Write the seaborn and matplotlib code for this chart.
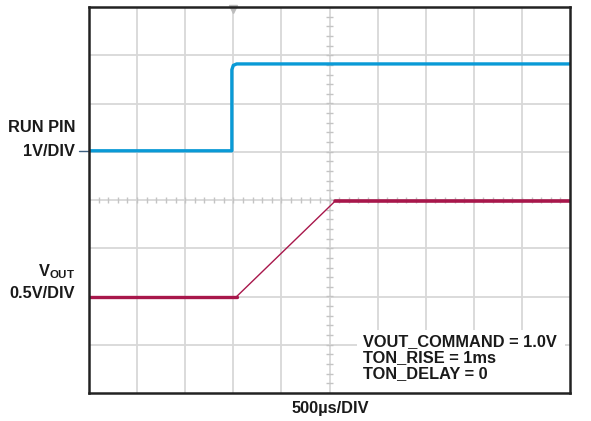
import numpy as np
import pandas as pd
import matplotlib
matplotlib.use("Agg")
import matplotlib.pyplot as plt
from matplotlib.patches import Rectangle
import seaborn as sns

# ---- data (in scope divisions) ----
run_t = [-5.0, -2.03, -2.03, -2.0, -1.93, 5.0]
run_v = [1.02, 1.02, 2.70, 2.79, 2.82, 2.82]
vout_low_t = [-5.0, -1.93]
vout_low_v = [-2.0, -2.0]
vout_ramp_t = [-1.93, 0.12]
vout_ramp_v = [-2.0, -0.02]
vout_high_t = [0.12, 5.0]
vout_high_v = [-0.02, -0.02]

x_div = list(range(-5, 6))
y_div = list(range(-4, 5))

sns.set_style("white")
plt.rcParams["font.family"] = ["Liberation Sans", "DejaVu Sans"]
plt.rcParams["mathtext.fontset"] = "custom"
plt.rcParams["mathtext.bf"] = "Liberation Sans:bold"
plt.rcParams["mathtext.rm"] = "Liberation Sans:bold"

fig = plt.figure(figsize=(5.91, 4.21), dpi=100)
ax = fig.add_axes([89/591, 1-393/421, 481/591, 386/421])

blue = "#0a9ad6"
red = "#a8174b"
gridc = "#d8d8d8"

ax.set_xlim(-5, 5)
ax.set_ylim(-4, 4)
for xv in x_div[1:-1]:
    ax.axvline(xv, color=gridc, lw=1.3, zorder=0)
for yv in y_div[1:-1]:
    ax.axhline(yv, color=gridc, lw=1.3, zorder=0)

# minor ticks along center axes
minor = np.arange(-5, 5.001, 0.2)
ax.vlines(minor, -0.07, 0.07, color="#c4c4c4", lw=1.0, zorder=1)
minor_y = np.arange(-4, 4.001, 0.2)
ax.hlines(minor_y, -0.07, 0.07, color="#c4c4c4", lw=1.0, zorder=1)

df_run = pd.DataFrame({"t": run_t, "v": run_v})
sns.lineplot(data=df_run, x="t", y="v", sort=False, estimator=None, color=blue,
             lw=2.4, ax=ax, zorder=3, solid_joinstyle="round")
sns.lineplot(data=pd.DataFrame({"t": vout_low_t, "v": vout_low_v}), x="t", y="v",
             sort=False, estimator=None, color=red, lw=2.4, ax=ax, zorder=3)
sns.lineplot(data=pd.DataFrame({"t": vout_ramp_t, "v": vout_ramp_v}), x="t", y="v",
             sort=False, estimator=None, color=red, lw=1.0, ax=ax, zorder=3)
sns.lineplot(data=pd.DataFrame({"t": vout_high_t, "v": vout_high_v}), x="t", y="v",
             sort=False, estimator=None, color=red, lw=2.6, ax=ax, zorder=3)

ax.set_xticks([])
ax.set_yticks([])
ax.set_xlabel("")
ax.set_ylabel("")
for s in ax.spines.values():
    s.set_visible(True)
    s.set_color("#222222")
    s.set_linewidth(1.8)
    s.set_zorder(5)

# trigger marker
ax.plot([-2.0], [3.96], marker="v", color="#bdbdbd", markersize=6, clip_on=False, zorder=4)
# channel marker
ax.plot([-5.2, -5.0], [run_v[0], run_v[0]], color="#3d5f80", lw=1.0, clip_on=False)

# white panel behind the annotation
ax.add_patch(Rectangle((0.58, -4.0), 4.32, 1.31, facecolor="white", edgecolor="none",
                       zorder=2))
ax.text(0.7, -2.77, "VOUT_COMMAND = 1.0V\nTON_RISE = 1ms\nTON_DELAY = 0",
        fontsize=11.8, fontweight="bold", va="top", ha="left", linespacing=1.12,
        color="#1a1a1a", zorder=4)

tc = "#1a1a1a"
fs = 11.8
fig.text(75/591, 1-127/421, "RUN PIN", ha="right", va="center", fontsize=fs,
         fontweight="bold", color=tc)
fig.text(75/591, 1-151/421, "1V/DIV", ha="right", va="center", fontsize=fs,
         fontweight="bold", color=tc)
fig.text(75/591, 1-272/421, r"$\mathbf{V}_{\mathbf{OUT}}$", ha="right", va="center",
         fontsize=fs, color=tc)
fig.text(75/591, 1-293/421, "0.5V/DIV", ha="right", va="center", fontsize=fs,
         fontweight="bold", color=tc)
fig.text(330/591, 1-408/421, "500µs/DIV", ha="center", va="center", fontsize=fs,
         fontweight="bold", color=tc)

fig.savefig("out.png", dpi=100)
